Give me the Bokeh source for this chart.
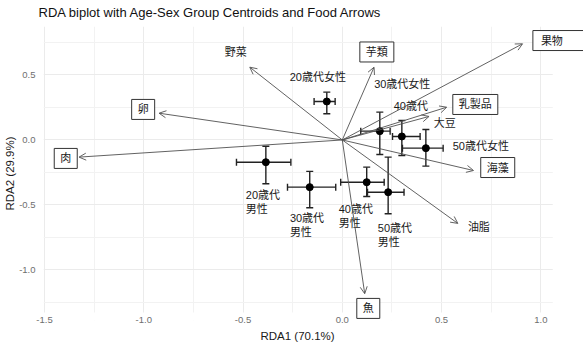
from bokeh.plotting import figure
from bokeh.models import (ColumnDataSource, Arrow, OpenHead, Whisker, TeeHead, Label,
                          FixedTicker, PrintfTickFormatter, Range1d, BoxAnnotation, Title)
from bokeh.embed import file_html
from bokeh.resources import INLINE
from bokeh.core.properties import value

# ---- data ----
foods = ["果物", "乳製品", "大豆", "海藻", "芋類", "野菜", "卵", "肉", "油脂", "魚"]
arrow_x = [0.908, 0.526, 0.437, 0.661, 0.160, -0.466, -0.923, -1.326, 0.582, 0.113]
arrow_y = [0.740, 0.252, 0.181, -0.235, 0.560, 0.560, 0.206, -0.132, -0.642, -1.183]
food_label_x = [0.960, 0.670, 0.516, 0.783, 0.174, -0.537, -1.003, -1.393, 0.688, 0.131]
food_label_y = [0.765, 0.273, 0.127, -0.212, 0.677, 0.673, 0.235, -0.142, -0.673, -1.296]
food_boxed = [True, True, False, True, True, False, True, True, False, True]

groups = ["20歳代女性", "30歳代女性", "40歳代女性", "50歳代女性",
          "20歳代男性", "30歳代男性", "40歳代男性", "50歳代男性"]
cent_x = [-0.078, 0.189, 0.300, 0.421, -0.385, -0.164, 0.123, 0.231]
cent_y = [0.296, 0.068, 0.027, -0.063, -0.171, -0.363, -0.325, -0.402]
cent_x_lo = [-0.142, 0.093, 0.253, 0.303, -0.533, -0.276, -0.008, 0.127]
cent_x_hi = [-0.036, 0.241, 0.392, 0.508, -0.259, -0.033, 0.211, 0.311]
cent_y_lo = [0.202, -0.112, -0.119, -0.201, -0.337, -0.522, -0.435, -0.568]
cent_y_hi = [0.368, 0.214, 0.150, 0.081, -0.048, -0.242, -0.209, -0.132]

fem_labels = ["20歳代女性", "30歳代女性", "40歳代", "50歳代女性"]
fem_label_x = [-0.123, 0.302, 0.345, 0.698]
fem_label_y = [0.481, 0.427, 0.265, -0.050]
male_labels = ["20歳代\n男性", "30歳代\n男性", "40歳代\n男性", "50歳代\n男性"]
male_label_x = [-0.486, -0.264, -0.018, 0.179]
male_label_y = [-0.477, -0.657, -0.587, -0.731]

x_ticks = [-1.5, -1.0, -0.5, 0.0, 0.5, 1.0]
x_minor = [-1.25, -0.75, -0.25, 0.25, 0.75]
y_ticks = [-1.0, -0.5, 0.0, 0.5]
y_minor = [-1.25, -0.75, -0.25, 0.25, 0.75]

# panel limits (the visible grid area) and the wider drawing area for labels
panel_x = (-1.505, 1.06)
panel_y = (-1.327, 0.873)
draw_x = (-1.505, 1.215)
draw_y = (-1.389, 0.873)

FONT = "Liberation Sans, Noto Sans CJK JP"

p = figure(width=583, height=350, output_backend="svg", toolbar_location=None,
           x_range=Range1d(*draw_x), y_range=Range1d(*draw_y),
           min_border_left=43, min_border_right=0, min_border_top=26, min_border_bottom=30,
           title="RDA biplot with Age-Sex Group Centroids and Food Arrows")
p.outline_line_color = None
p.background_fill_color = "white"
p.border_fill_color = "white"

p.title.text_font = "Liberation Sans"
p.title.text_font_size = "13px"
p.title.text_font_style = "normal"
p.title.text_color = "#111111"
p.title.offset = -5
p.title.standoff = 9
p.title.vertical_align = "top"

for ax in (p.xaxis[0], p.yaxis[0]):
    ax.axis_line_color = None
    ax.major_tick_line_color = None
    ax.minor_tick_line_color = None
    ax.major_tick_out = 0
    ax.major_tick_in = 0
    ax.minor_tick_out = 0
    ax.minor_tick_in = 0
    ax.major_label_text_font = "Liberation Sans"
    ax.major_label_text_font_size = "9.5px"
    ax.major_label_text_color = "#6e6e6e"
    ax.axis_label_text_font = "Liberation Sans"
    ax.axis_label_text_font_size = "11.5px"
    ax.axis_label_text_font_style = "normal"
    ax.axis_label_text_color = "#1a1a1a"
    ax.formatter = PrintfTickFormatter(format="%.1f")

p.xaxis.ticker = FixedTicker(ticks=x_ticks, minor_ticks=x_minor)
p.yaxis.ticker = FixedTicker(ticks=y_ticks, minor_ticks=y_minor)
p.yaxis.axis_label = "RDA2 (29.9%)"
p.xaxis.major_label_standoff = -4
p.yaxis.major_label_standoff = 8
p.yaxis.axis_label_standoff = 0

# x-axis title placed under the panel (panel is narrower than drawing area)
p.add_layout(Title(text="RDA1 (70.1%)", align="left", offset=217, standoff=4,
                   text_font="Liberation Sans", text_font_size="11.5px",
                   text_font_style="normal", text_color="#1a1a1a"), "below")

for g in (p.xgrid[0], p.ygrid[0]):
    g.grid_line_color = "#EBEBEB"
    g.grid_line_width = 1
    g.minor_grid_line_color = "#F2F2F2"
    g.minor_grid_line_width = 1
p.xgrid.ticker = FixedTicker(ticks=x_ticks, minor_ticks=x_minor)
p.ygrid.ticker = FixedTicker(ticks=y_ticks, minor_ticks=y_minor)

# blank out the grid outside the panel area
p.add_layout(BoxAnnotation(left=panel_x[1], fill_color="white", fill_alpha=1.0,
                           line_color=None, level="underlay"))
p.add_layout(BoxAnnotation(top=panel_y[0], fill_color="white", fill_alpha=1.0,
                           line_color=None, level="underlay"))

# ---- food arrows ----
asrc = ColumnDataSource(dict(x0=[0.0] * len(foods), y0=[0.0] * len(foods),
                             x1=arrow_x, y1=arrow_y))
p.add_layout(Arrow(source=asrc, x_start="x0", y_start="y0", x_end="x1", y_end="y1",
                   line_color="#505050", line_width=0.9,
                   end=OpenHead(size=7, line_color="#505050", line_width=0.9)))

# ---- centroids with error bars ----
csrc = ColumnDataSource(dict(x=cent_x, y=cent_y, xlo=cent_x_lo, xhi=cent_x_hi,
                             ylo=cent_y_lo, yhi=cent_y_hi))
p.add_layout(Whisker(source=csrc, base="y", lower="xlo", upper="xhi", dimension="width",
                     line_color="#222222", line_width=1.4,
                     lower_head=TeeHead(size=7, line_color="#222222", line_width=1.4),
                     upper_head=TeeHead(size=7, line_color="#222222", line_width=1.4)))
p.add_layout(Whisker(source=csrc, base="x", lower="ylo", upper="yhi", dimension="height",
                     line_color="#222222", line_width=1.4,
                     lower_head=TeeHead(size=7, line_color="#222222", line_width=1.4),
                     upper_head=TeeHead(size=7, line_color="#222222", line_width=1.4)))
p.scatter("x", "y", source=csrc, size=7, color="black")

# ---- centroid labels ----
p.text(x=fem_label_x, y=fem_label_y, text=fem_labels, text_font=value(FONT),
       text_font_size="11px", text_color="#1a1a1a", text_align="center",
       text_baseline="middle")
p.text(x=male_label_x, y=male_label_y, text=male_labels, text_font=value(FONT),
       text_font_size="11px", text_color="#1a1a1a", text_align="left",
       text_baseline="middle", text_line_height=1.15)

# ---- food labels ----
plain_x = [x for x, b in zip(food_label_x, food_boxed) if not b]
plain_y = [y for y, b in zip(food_label_y, food_boxed) if not b]
plain_t = [t for t, b in zip(foods, food_boxed) if not b]
p.text(x=plain_x, y=plain_y, text=plain_t, text_font=value(FONT),
       text_font_size="11px", text_color="#1a1a1a", text_align="center",
       text_baseline="middle")

for t, x, y, b in zip(foods, food_label_x, food_label_y, food_boxed):
    if not b:
        continue
    wide = (t == "果物")
    p.add_layout(Label(x=x, y=y, text=t, text_font=FONT, text_font_size="11px",
                       text_color="#1a1a1a",
                       text_align="left" if wide else "center", text_baseline="middle",
                       border_line_color="#333333", border_line_width=1,
                       background_fill_color="white",
                       padding=dict(left=8, right=28, top=4, bottom=4) if wide
                       else dict(left=6, right=6, top=4, bottom=4)))

open("out.html", "w").write(file_html(p, INLINE))
